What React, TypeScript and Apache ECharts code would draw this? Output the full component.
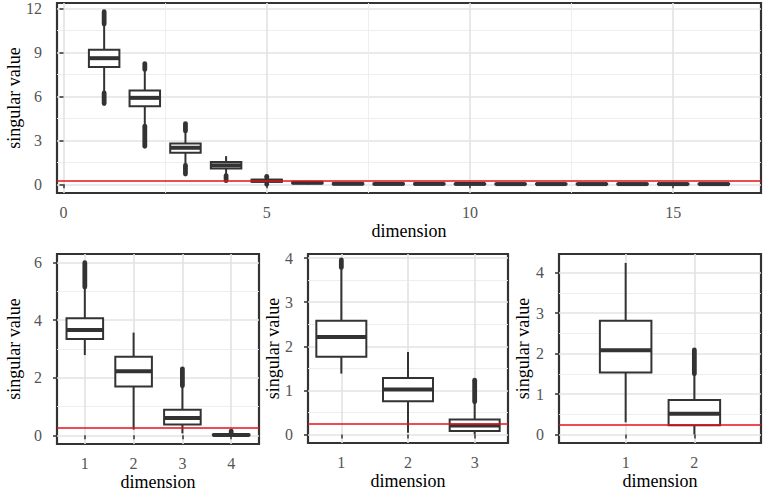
import React, { useEffect, useRef } from "react";
import * as echarts from "echarts";

const THRESHOLD = 0.25;
const FONT = "Liberation Serif";

// ---- Top panel (all 16 dimensions) ----
const topDims = [1, 2, 3, 4, 5, 6, 7, 8, 9, 10, 11, 12, 13, 14, 15, 16];
const topLow = [6.3, 4.0, 1.35, 0.65, 0.05, 0.0, 0.0, 0.0, 0.0, 0.0, 0.0, 0.0, 0.0, 0.0, 0.0, 0.0];
const topQ1 = [8.02, 5.34, 2.16, 1.09, 0.18, 0.07, 0.01, 0.01, 0.01, 0.01, 0.0, 0.0, 0.0, 0.0, 0.0, 0.0];
const topMed = [8.62, 5.91, 2.5, 1.3, 0.25, 0.11, 0.04, 0.03, 0.03, 0.03, 0.02, 0.02, 0.02, 0.02, 0.02, 0.02];
const topQ3 = [9.2, 6.41, 2.8, 1.52, 0.31, 0.15, 0.07, 0.06, 0.06, 0.05, 0.05, 0.05, 0.05, 0.05, 0.04, 0.04];
const topHigh = [10.9, 7.8, 3.6, 1.93, 0.45, 0.24, 0.12, 0.1, 0.1, 0.09, 0.09, 0.09, 0.08, 0.08, 0.08, 0.07];
const topOutDims = [1, 1, 2, 2, 3, 3, 4, 5, 5];
const topOutLow = [5.52, 10.95, 2.6, 7.85, 0.7, 3.65, 0.25, 0.0, 0.46];
const topOutHigh = [6.25, 11.8, 3.97, 8.25, 1.3, 4.15, 0.6, 0.03, 0.55];
const topXTicks = [0, 5, 10, 15];
const topXMinor = [2.5, 7.5, 12.5];
const topYTicks = [0, 3, 6, 9, 12];
const topYMinor = [1.5, 4.5, 7.5, 10.5];

// ---- Bottom panel A (4 dimensions) ----
const aDims = [1, 2, 3, 4];
const aLow = [2.79, 0.2, 0.07, 0.0];
const aQ1 = [3.35, 1.7, 0.38, 0.0];
const aMed = [3.66, 2.23, 0.6, 0.01];
const aQ3 = [4.07, 2.73, 0.89, 0.03];
const aHigh = [5.13, 3.57, 1.7, 0.06];
const aOutDims = [1, 3, 4];
const aOutLow = [5.15, 1.72, 0.07];
const aOutHigh = [6.0, 2.31, 0.15];
const aXTicks = [1, 2, 3, 4];
const aYTicks = [0, 2, 4, 6];
const aYMinor = [1, 3, 5];

// ---- Bottom panel B (3 dimensions) ----
const bDims = [1, 2, 3];
const bLow = [1.38, 0.04, 0.0];
const bQ1 = [1.76, 0.75, 0.08];
const bMed = [2.21, 1.02, 0.2];
const bQ3 = [2.58, 1.28, 0.34];
const bHigh = [3.77, 1.87, 0.72];
const bOutDims = [1, 3];
const bOutLow = [3.79, 0.74];
const bOutHigh = [3.96, 1.23];
const bXTicks = [1, 2, 3];
const bYTicks = [0, 1, 2, 3, 4];
const bYMinor = [0.5, 1.5, 2.5, 3.5];

// ---- Bottom panel C (2 dimensions) ----
const cDims = [1, 2];
const cLow = [0.3, 0.0];
const cQ1 = [1.53, 0.23];
const cMed = [2.08, 0.51];
const cQ3 = [2.81, 0.85];
const cHigh = [4.24, 1.48];
const cOutDims = [2];
const cOutLow = [1.5];
const cOutHigh = [2.09];
const cXTicks = [1, 2];
const cYTicks = [0, 1, 2, 3, 4];
const cYMinor = [0.5, 1.5, 2.5, 3.5];

const DARK = "#333333";

const boxData = (d: number[], lo: number[], q1: number[], md: number[], q3: number[], hi: number[]) =>
  d.map((x, i) => [x, lo[i], q1[i], md[i], q3[i], hi[i]]);
const outData = (d: number[], lo: number[], hi: number[]) => d.map((x, i) => [x, lo[i], hi[i]]);

function renderBox(_params: any, api: any) {
  const x = api.value(0);
  const pLow = api.coord([x, api.value(1)]);
  const pQ1 = api.coord([x, api.value(2)]);
  const pMed = api.coord([x, api.value(3)]);
  const pQ3 = api.coord([x, api.value(4)]);
  const pHigh = api.coord([x, api.value(5)]);
  const halfW = api.size([0.75, 0])[0] / 2;
  const ls = { stroke: DARK, lineWidth: 2, fill: "none" };
  return {
    type: "group",
    children: [
      { type: "line", shape: { x1: pLow[0], y1: pLow[1], x2: pQ1[0], y2: pQ1[1] }, style: ls },
      { type: "line", shape: { x1: pQ3[0], y1: pQ3[1], x2: pHigh[0], y2: pHigh[1] }, style: ls },
      {
        type: "rect",
        shape: { x: pQ3[0] - halfW, y: pQ3[1], width: 2 * halfW, height: pQ1[1] - pQ3[1] },
        style: { fill: "#ffffff", stroke: DARK, lineWidth: 2 },
      },
      {
        type: "line",
        shape: { x1: pMed[0] - halfW, y1: pMed[1], x2: pMed[0] + halfW, y2: pMed[1] },
        style: { stroke: DARK, lineWidth: 4 },
      },
    ],
  };
}

function renderOut(_params: any, api: any) {
  const x = api.value(0);
  const p1 = api.coord([x, api.value(1)]);
  const p2 = api.coord([x, api.value(2)]);
  return {
    type: "line",
    shape: { x1: p1[0], y1: p1[1], x2: p2[0], y2: p2[1] },
    style: { stroke: DARK, lineWidth: 4.8, lineCap: "round" },
  };
}

const labelStyle = { color: "#555555", fontFamily: FONT, fontSize: 16 };
const nameStyle = { color: "#000000", fontFamily: FONT, fontSize: 18 };
const MAJOR_GRID = { color: "#e3e3e3", width: 1.6 };
const MINOR_GRID = { color: "#ececec", width: 0.9 };

function majorX(grid: number, min: number, max: number, ticks: number[]) {
  return {
    type: "value",
    gridIndex: grid,
    min,
    max,
    name: "dimension",
    nameLocation: "middle",
    nameGap: 29,
    nameMoveOverlap: false,
    nameTextStyle: nameStyle,
    axisLine: { show: false },
    axisTick: { show: true, customValues: ticks, length: 4, lineStyle: { color: DARK, width: 1.5 } },
    axisLabel: { ...labelStyle, margin: 11, customValues: ticks },
    splitLine: { show: true, lineStyle: MAJOR_GRID },
  };
}
function minorX(grid: number, min: number, max: number, ticks: number[]) {
  return {
    type: "value",
    gridIndex: grid,
    min,
    max,
    axisLine: { show: false },
    axisTick: { show: false, customValues: ticks },
    axisLabel: { show: false, customValues: ticks },
    splitLine: { show: true, lineStyle: MINOR_GRID },
  };
}
function majorY(grid: number, min: number, max: number, ticks: number[], gap: number) {
  return {
    type: "value",
    gridIndex: grid,
    min,
    max,
    name: "singular value",
    nameLocation: "middle",
    nameGap: gap,
    nameMoveOverlap: false,
    nameTextStyle: nameStyle,
    axisLine: { show: false },
    axisTick: { show: true, customValues: ticks, length: 4, lineStyle: { color: DARK, width: 1.5 } },
    axisLabel: { ...labelStyle, margin: 15, customValues: ticks },
    splitLine: { show: true, lineStyle: MAJOR_GRID },
  };
}
function minorY(grid: number, min: number, max: number, ticks: number[]) {
  return {
    type: "value",
    gridIndex: grid,
    min,
    max,
    position: "left",
    axisLine: { show: false },
    axisTick: { show: false, customValues: ticks },
    axisLabel: { show: false, customValues: ticks },
    splitLine: { show: true, lineStyle: MINOR_GRID },
  };
}

function panelSeries(xIdx: number, yIdx: number, boxes: number[][], outs: number[][]) {
  return [
    {
      type: "custom",
      xAxisIndex: xIdx,
      yAxisIndex: yIdx,
      renderItem: renderBox,
      data: boxes,
      z: 3,
      silent: true,
    },
    {
      type: "custom",
      xAxisIndex: xIdx,
      yAxisIndex: yIdx,
      renderItem: renderOut,
      data: outs,
      z: 4,
      silent: true,
      markLine: {
        silent: true,
        symbol: "none",
        label: { show: false },
        lineStyle: { color: "#e8101a", width: 1.6, type: "solid" },
        data: [{ yAxis: THRESHOLD }],
        z: 6,
      },
    },
  ];
}

export default function App() {
  const ref = useRef<HTMLDivElement>(null);
  useEffect(() => {
    if (!ref.current) return;
    const chart = echarts.init(ref.current, undefined, { renderer: "svg" });
    const gridBase = {
      show: true,
      borderColor: DARK,
      borderWidth: 2.2,
      backgroundColor: "transparent",
      containLabel: false,
      outerBoundsMode: "none",
    };
    chart.setOption({
      animation: false,
      backgroundColor: "#ffffff",
      grid: [
        { ...gridBase, left: 57, top: 3, width: 704, height: 190 },
        { ...gridBase, left: 57, top: 254, width: 202, height: 190 },
        { ...gridBase, left: 308, top: 254, width: 200, height: 189 },
        { ...gridBase, left: 559, top: 254, width: 202, height: 189 },
      ],
      xAxis: [
        majorX(0, -0.16, 17.16, topXTicks),
        minorX(0, -0.16, 17.16, topXMinor),
        majorX(1, 0.43, 4.57, aXTicks),
        majorX(2, 0.5, 3.5, bXTicks),
        majorX(3, 0.03, 2.97, cXTicks),
      ],
      yAxis: [
        majorY(0, -0.59, 12.39, topYTicks, 34),
        minorY(0, -0.59, 12.39, topYMinor),
        majorY(1, -0.3, 6.3, aYTicks, 34),
        minorY(1, -0.3, 6.3, aYMinor),
        majorY(2, -0.195, 4.095, bYTicks, 26),
        minorY(2, -0.195, 4.095, bYMinor),
        majorY(3, -0.21, 4.46, cYTicks, 27),
        minorY(3, -0.21, 4.46, cYMinor),
      ],
      series: [
        ...panelSeries(0, 0, boxData(topDims, topLow, topQ1, topMed, topQ3, topHigh), outData(topOutDims, topOutLow, topOutHigh)),
        ...panelSeries(2, 2, boxData(aDims, aLow, aQ1, aMed, aQ3, aHigh), outData(aOutDims, aOutLow, aOutHigh)),
        ...panelSeries(3, 4, boxData(bDims, bLow, bQ1, bMed, bQ3, bHigh), outData(bOutDims, bOutLow, bOutHigh)),
        ...panelSeries(4, 6, boxData(cDims, cLow, cQ1, cMed, cQ3, cHigh), outData(cOutDims, cOutLow, cOutHigh)),
      ],
    });
    return () => chart.dispose();
  }, []);
  return <div ref={ref} style={{ position: "fixed", left: 0, top: 0, width: 767, height: 494 }} />;
}
